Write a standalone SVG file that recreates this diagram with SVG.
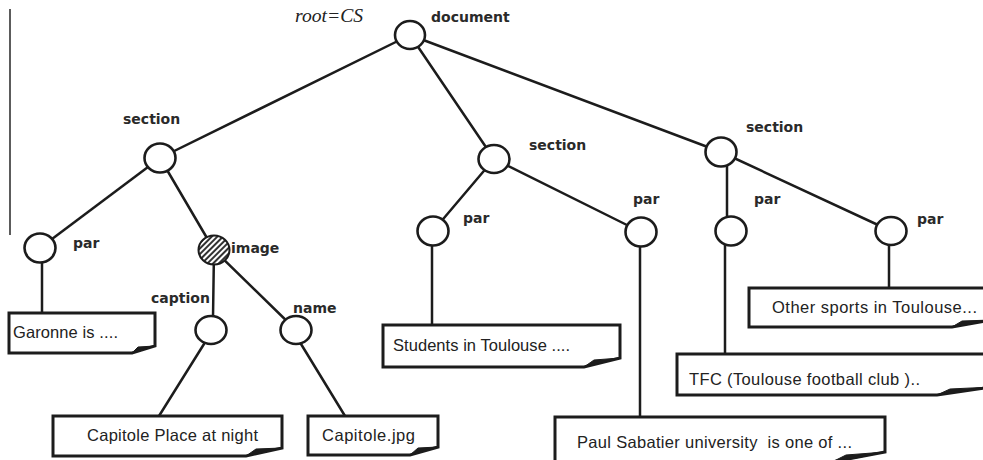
<svg xmlns="http://www.w3.org/2000/svg" width="983" height="460" viewBox="0 0 983 460">
<style>
.ln{stroke:#1c1c1c;stroke-width:2.5;fill:none;stroke-linecap:round}
.nd{fill:#fff;stroke:#1c1c1c;stroke-width:2.6}
.bx{fill:#fff;stroke:#1c1c1c;stroke-width:3;stroke-linejoin:miter}
.fd{fill:#1c1c1c;stroke:#1c1c1c;stroke-width:1}
.lb{font-family:"DejaVu Sans",sans-serif;font-weight:bold;font-size:14px;fill:#2a2a2a}
.tx{font-family:"Liberation Sans",Arial,sans-serif;font-size:16.5px;fill:#222}
</style>
<defs>
<pattern id="hatch" patternUnits="userSpaceOnUse" width="4" height="4" patternTransform="rotate(45)">
<rect width="4" height="4" fill="#fff"/>
<line x1="1" y1="0" x2="1" y2="4" stroke="#333" stroke-width="2"/>
</pattern>
</defs>
<rect width="983" height="460" fill="#fff"/>
<line x1="10" y1="9" x2="10" y2="235" stroke="#333" stroke-width="1.6"/>
<text x="295" y="22" font-family="Liberation Serif,serif" font-style="italic" font-size="18" fill="#222" textLength="68" lengthAdjust="spacingAndGlyphs">root=CS</text>
<g id="connectors">
<line class="ln" x1="410" y1="35" x2="160" y2="158"/>
<line class="ln" x1="410" y1="35" x2="494" y2="159"/>
<line class="ln" x1="410" y1="35" x2="721" y2="152"/>
<line class="ln" x1="160" y1="158" x2="40" y2="248"/>
<line class="ln" x1="160" y1="158" x2="214" y2="250"/>
<line class="ln" x1="214" y1="250" x2="213" y2="318"/>
<line class="ln" x1="214" y1="250" x2="296" y2="330"/>
<line class="ln" x1="42" y1="262" x2="42" y2="313"/>
<line class="ln" x1="204" y1="344" x2="159" y2="416"/>
<line class="ln" x1="301" y1="344" x2="345" y2="416"/>
<line class="ln" x1="494" y1="159" x2="433" y2="231"/>
<line class="ln" x1="494" y1="159" x2="641" y2="232"/>
<line class="ln" x1="432" y1="245" x2="432" y2="325"/>
<line class="ln" x1="640" y1="246" x2="640" y2="417"/>
<line class="ln" x1="727" y1="165" x2="727" y2="218"/>
<line class="ln" x1="721" y1="152" x2="891" y2="231"/>
<line class="ln" x1="725" y1="245" x2="725" y2="354"/>
<line class="ln" x1="889" y1="245" x2="889" y2="288"/>
</g>
<g id="n-document"><ellipse class="nd" cx="410" cy="35" rx="15" ry="14"/><text class="lb" x="431" y="22">document</text></g>
<g id="n-section1"><ellipse class="nd" cx="160" cy="158" rx="15.5" ry="14.5"/><text class="lb" x="123" y="124">section</text></g>
<g id="n-section2"><ellipse class="nd" cx="494" cy="159" rx="15.5" ry="14"/><text class="lb" x="529" y="150">section</text></g>
<g id="n-section3"><ellipse class="nd" cx="721" cy="152" rx="15.5" ry="14.5"/><text class="lb" x="746" y="132">section</text></g>
<g id="n-par1"><ellipse class="nd" cx="40" cy="248" rx="15.5" ry="14.5"/><text class="lb" x="73" y="248">par</text></g>
<g id="n-image"><ellipse cx="214" cy="250" rx="15.5" ry="14.5" fill="url(#hatch)" stroke="#1c1c1c" stroke-width="2"/><text class="lb" x="231" y="253">image</text></g>
<g id="n-caption"><ellipse class="nd" cx="211" cy="330" rx="15.5" ry="14"/><text class="lb" x="151" y="303">caption</text></g>
<g id="n-name"><ellipse class="nd" cx="296" cy="330" rx="15.5" ry="14"/><text class="lb" x="293" y="313">name</text></g>
<g id="n-par2"><ellipse class="nd" cx="433" cy="231" rx="15.5" ry="14.5"/><text class="lb" x="463" y="223">par</text></g>
<g id="n-par3"><ellipse class="nd" cx="641" cy="232" rx="15.5" ry="14.5"/><text class="lb" x="633" y="204">par</text></g>
<g id="n-par4"><ellipse class="nd" cx="731" cy="231" rx="15.5" ry="14.5"/><text class="lb" x="754" y="204">par</text></g>
<g id="n-par5"><ellipse class="nd" cx="891" cy="231" rx="15.5" ry="14"/><text class="lb" x="917" y="224">par</text></g>
<g id="b-garonne">
<path class="bx" d="M9 313 H155 V346 L132 353 H9 Z"/>
<path class="fd" d="M132 353 L138 347 L155 346 L142 350 Z"/>
<text class="tx" x="13" y="338" textLength="105">Garonne is ....</text>
</g>
<g id="b-capitole-place">
<path class="bx" d="M53 416 H282 V448 L246 456 H53 Z"/>
<path class="fd" d="M246 456 L256 449 L282 448 L262 452 Z"/>
<text class="tx" x="87" y="441" textLength="171">Capitole Place at night</text>
</g>
<g id="b-capitole-jpg">
<path class="bx" d="M308 416 H438 V447 L410 455 H308 Z"/>
<path class="fd" d="M410 455 L418 448 L438 447 L423 451 Z"/>
<text class="tx" x="322" y="441" textLength="93">Capitole.jpg</text>
</g>
<g id="b-students">
<path class="bx" d="M383 325 H620 V358 L584 367 H383 Z"/>
<path class="fd" d="M584 367 L594 360 L620 358 L600 363 Z"/>
<text class="tx" x="393" y="351" textLength="177">Students in Toulouse ....</text>
</g>
<g id="b-paul">
<path class="bx" d="M555 417 H885 V452 L832 462 H555 Z"/>
<path class="fd" d="M832 462 L846 455 L885 452 L856 458 Z"/>
<text class="tx" x="577" y="448" textLength="275" xml:space="preserve">Paul Sabatier university  is one of ...</text>
</g>
<g id="b-other">
<path class="bx" d="M749 288 H992 V320 L952 327 H749 Z"/>
<path class="fd" d="M952 327 L962 321 L992 320 L970 324 Z"/>
<text class="tx" x="772" y="313" textLength="205">Other sports in Toulouse...</text>
</g>
<g id="b-tfc">
<path class="bx" d="M677 354 H992 V387 L937 395 H677 Z"/>
<path class="fd" d="M937 395 L950 389 L992 387 L958 392 Z"/>
<text class="tx" x="689" y="385" textLength="231">TFC (Toulouse football club )..</text>
</g>
</svg>
